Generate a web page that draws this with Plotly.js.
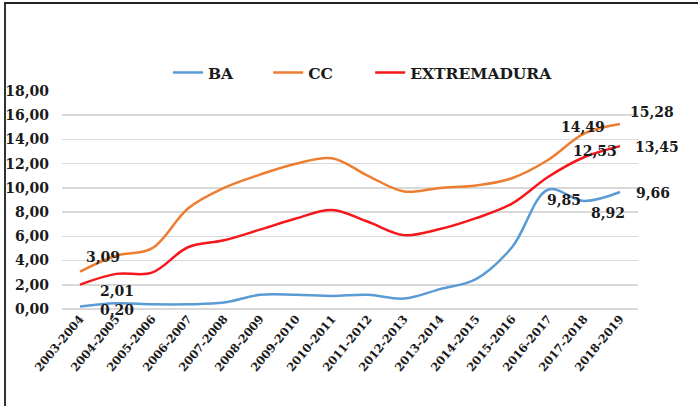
<!DOCTYPE html>
<html>
<head>
<meta charset="utf-8">
<script src="https://cdn.plot.ly/plotly-3.0.1.min.js"></script>
<style>
  html, body { margin: 0; padding: 0; background: #fff; }
  #wrap { position: relative; width: 698px; height: 406px; }
  #chart { width: 698px; height: 406px; }
  #frame {
    position: absolute; left: 4px; top: 2px; right: -4px; bottom: -4px;
    border-top: 2px solid #222; border-left: 2px solid #333;
    pointer-events: none;
  }
</style>
</head>
<body>
<div id="wrap">
  <div id="chart"></div>
  <div id="frame"></div>
</div>
<script>
// School years on the category axis
const years = ["2003-2004", "2004-2005", "2005-2006", "2006-2007", "2007-2008",
  "2008-2009", "2009-2010", "2010-2011", "2011-2012", "2012-2013", "2013-2014",
  "2014-2015", "2015-2016", "2016-2017", "2017-2018", "2018-2019"];

// Series values
const ba  = [0.20, 0.47, 0.39, 0.39, 0.53, 1.17, 1.17, 1.08, 1.17, 0.86, 1.64, 2.47, 5.10, 9.85, 8.92, 9.66];
const cc  = [3.09, 4.40, 5.00, 8.30, 10.00, 11.10, 12.00, 12.45, 11.00, 9.70, 10.00, 10.20, 10.80, 12.30, 14.49, 15.28];
const ext = [2.01, 2.90, 3.00, 5.10, 5.67, 6.55, 7.47, 8.17, 7.20, 6.10, 6.60, 7.50, 8.70, 10.90, 12.53, 13.45];

// Which points carry a value label
const baLabelIdx  = [0, 13, 14, 15];
const ccLabelIdx  = [0, 14, 15];
const extLabelIdx = [0, 14, 15];

const serif = "'DejaVu Serif', serif";
const boldFont = {family: serif, size: 14, color: '#1a1a1a', weight: 700};

function line(name, y, color, legendId) {
  return {
    type: 'scatter', mode: 'lines', name: name, x: years, y: y,
    line: {color: color, width: 2.5, shape: 'spline', smoothing: 1},
    legend: legendId, hoverinfo: 'skip'
  };
}

const traces = [
  line('BA', ba, '#5b9bd5', 'legend'),
  line('CC', cc, '#ed7d31', 'legend2'),
  line('EXTREMADURA', ext, '#f5171b', 'legend3')
];

// Label placement next to each labelled point (pixels)
const baShift  = [[37, -3], [16, -10], [24, -12], [33, -1]];
const ccShift  = [[23, 15], [-1, 7], [32, 12]];
const extShift = [[37, -6], [11, 6], [37, -1]];

function fmt(v) { return v.toFixed(2).replace('.', ','); }

function labels(values, idx, shifts) {
  return idx.map((i, k) => ({
    x: years[i], y: values[i], text: fmt(values[i]),
    showarrow: false, xshift: shifts[k][0], yshift: shifts[k][1],
    font: boldFont
  }));
}

const annotations = [].concat(
  labels(cc, ccLabelIdx, ccShift),
  labels(ext, extLabelIdx, extShift),
  labels(ba, baLabelIdx, baShift)
);

function legendAt(x) {
  return {
    orientation: 'h', x: x, xanchor: 'left', y: 1.083, yanchor: 'middle',
    font: {family: serif, size: 15.5, color: '#1a1a1a', weight: 700},
    bgcolor: 'rgba(0,0,0,0)', borderwidth: 0
  };
}

const layout = {
  width: 698, height: 406,
  margin: {l: 62, r: 60, t: 91, b: 97, pad: 0},
  paper_bgcolor: '#fff', plot_bgcolor: '#fff',
  separators: ',.',
  showlegend: true,
  legend: legendAt(0.184),
  legend2: legendAt(0.358),
  legend3: legendAt(0.535),
  xaxis: {
    type: 'category', range: [-0.5, 15.5],
    tickangle: -50, tickfont: {family: serif, size: 11.5, color: '#1a1a1a', weight: 700},
    showgrid: false, zeroline: false, showline: false, ticks: ''
  },
  yaxis: {
    range: [0, 18], dtick: 2, tickformat: '.2f',
    tickfont: boldFont,
    showgrid: true, gridcolor: '#d9d9d9', gridwidth: 1.5,
    zeroline: true, zerolinecolor: '#d9d9d9', zerolinewidth: 1.5,
    showline: false, ticks: '', ticklabelstandoff: 12
  },
  annotations: annotations
};

Plotly.newPlot('chart', traces, layout, {staticPlot: true, displayModeBar: false});
</script>
</body>
</html>
